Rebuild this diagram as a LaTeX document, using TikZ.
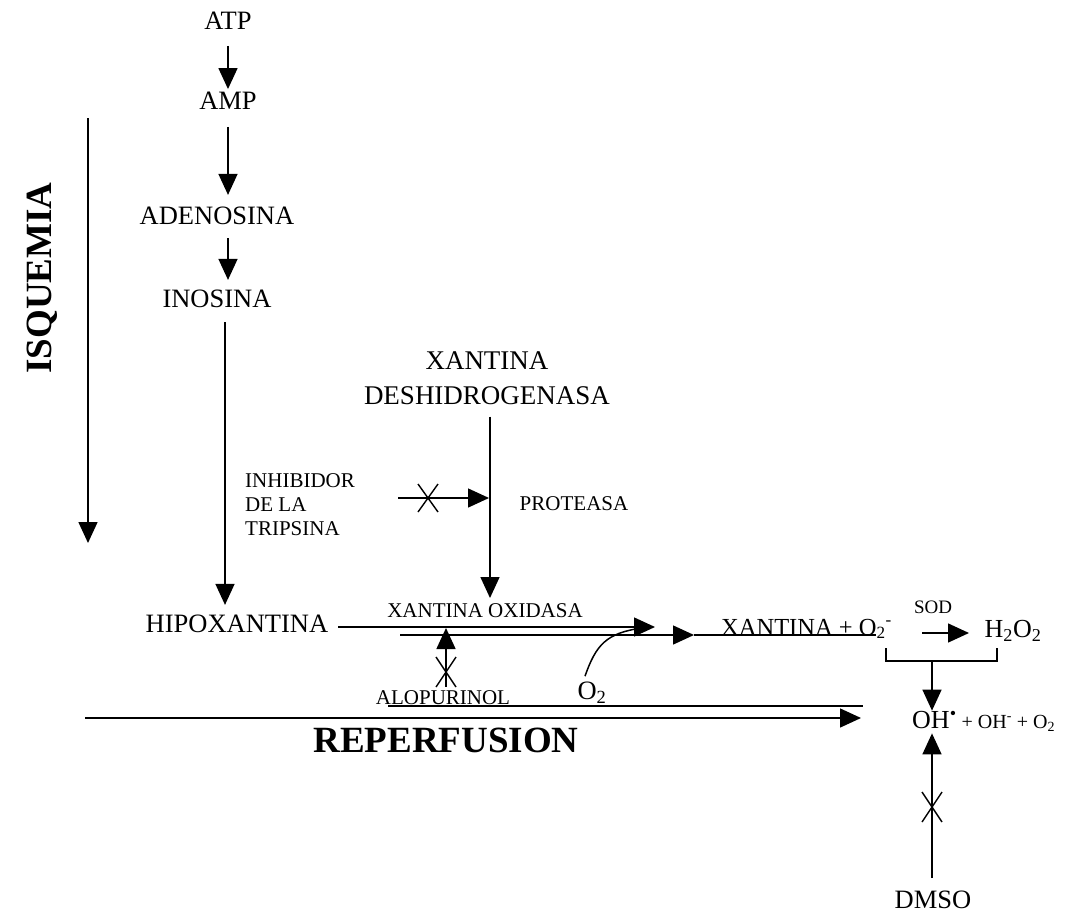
\documentclass[tikz,border=0pt]{standalone}
\usepackage{fontspec}
\setmainfont{Liberation Serif}
\usetikzlibrary{arrows.meta,calc}
\begin{document}
\begin{tikzpicture}[x=1pt,y=-1pt,
  big/.style={font=\fontsize{26.5}{30}\selectfont, inner sep=0pt},
  small/.style={font=\fontsize{21}{24}\selectfont, inner sep=0pt},
  bold/.style={font=\fontsize{37}{40}\selectfont\bfseries, inner sep=0pt},
  ln/.style={line width=1.5pt},
  arr/.style={ln, -{Triangle[length=21pt,width=19pt]}},
  xmark/.style={line width=1.4pt}]
\useasboundingbox (0,0) rectangle (1074,918);
% ladder
\node[big] (atp) at (228,21) {ATP};
\node[big] (amp) at (228,101) {AMP};
\node[big] (ade) at (217,216) {ADENOSINA};
\node[big] (ino) at (217,299) {INOSINA};
\node[big] (hipo) at (237,624) {HIPOXANTINA};
\draw[arr] ($(atp.south)+(0,16)$) -- ($(amp.north)+(0,-3)$);
\draw[arr] ($(amp.south)+(0,17)$) -- ($(ade.north)+(11,-12)$);
\draw[arr] ($(ade.south)+(11,13)$) -- ($(ino.north)+(11,-10)$);
\draw[arr] ($(ino.south)+(8,14)$) -- ($(hipo.north)+(-12,-10)$);
% isquemia
\node[bold, rotate=90] (isq) at (42,278) {ISQUEMIA};
\coordinate (isqa) at (88,118);
\coordinate (isqb) at (88,543);
\draw[arr] (isqa) -- (isqb);
% xantina deshidrogenasa
\node[big, align=center, font=\fontsize{27}{35}\selectfont] (xd) at (487,378) {XANTINA\\DESHIDROGENASA};
\coordinate (xdt) at (490,598);
\draw[arr] ($(xd.south)+(3,12)$) -- (xdt);
\node[small, align=left, anchor=west] (inh) at (245,505) {INHIBIDOR\\DE LA\\TRIPSINA};
\node[small] (prot) at (574,504) {PROTEASA};
\coordinate (inhs) at (398,498);
\coordinate (inht) at (489,498);
\draw[arr] (inhs) -- (inht);
\coordinate (x1) at (428,498);
\draw[xmark] ($(x1)+(-10,-14)$) -- ($(x1)+(10,14)$) ($(x1)+(-10,14)$) -- ($(x1)+(10,-14)$);
% xantina oxidasa
\node[small] (xo) at (485,611) {XANTINA OXIDASA};
\coordinate (u1) at (655,627);
\draw[arr] (hipo.east) ++(10,3) coordinate (h1) -- (u1);
\coordinate (l1) at (400,635);
\coordinate (l2) at (694,635);
\coordinate (l3) at (876,635);
\draw[arr] (l1) -- (l2);
\draw[ln] (l2) -- (l3);
\node[small] (alo) at (443,698) {ALOPURINOL};
\coordinate (alt) at (446,628);
\draw[arr] ($(alo.north)+(3,-4)$) -- (alt);
\coordinate (x2) at (446,672);
\draw[xmark] ($(x2)+(-10,-15)$) -- ($(x2)+(10,15)$) ($(x2)+(-10,15)$) -- ($(x2)+(10,-15)$);
\node[big] (o2a) at (592,693) {O\textsubscript{2}};
\coordinate (o2j) at (642,628);
\draw[ln] ($(o2a.north)+(-7,-6)$) .. controls (596,645) and (606,633) .. (o2j);
% products
\node[font=\fontsize{24.5}{28}\selectfont, inner sep=0pt, anchor=base west] (xan) at (721,635) {XANTINA + O\textsubscript{2}\textsuperscript{-}};
\node[font=\fontsize{19}{21}\selectfont, inner sep=0pt] (sod) at (933,607) {SOD};
\node[font=\fontsize{26}{28}\selectfont, inner sep=0pt] (h2o2) at (1013,631) {H\textsubscript{2}O\textsubscript{2}};
\coordinate (s1) at (922,633);
\coordinate (s2) at (969,633);
\draw[arr] (s1) -- (s2);
\coordinate (b1) at (886,648);
\coordinate (b2) at (886,661);
\coordinate (b3) at (997,661);
\coordinate (b4) at (997,648);
\draw[line width=1.2pt] (b1) -- (b2) -- (b3) -- (b4);
\node[inner sep=0pt, anchor=west] (oh) at (912,721) {\fontsize{26}{28}\selectfont OH\textsuperscript{\textbullet}\fontsize{20}{22}\selectfont{} + OH\textsuperscript{-} + O\textsubscript{2}};
\coordinate (bm) at (932,661);
\draw[arr] (bm) -- (oh.north -| bm);
% reperfusion
\coordinate (r1) at (388,706);
\coordinate (r2) at (863,706);
\draw[ln] (r1) -- (r2);
\coordinate (r3) at (85,718);
\coordinate (r4) at (861,718);
\draw[arr] (r3) -- (r4);
\node[bold] (rep) at (446,740) {REPERFUSION};
% dmso
\node[big] (dmso) at (933,900) {DMSO};
\coordinate (dm) at (932,878);
\draw[arr] (dm) -- ($(oh.south -| dm)+(0,2)$);
\coordinate (x3) at (932,807);
\draw[xmark] ($(x3)+(-10,-15)$) -- ($(x3)+(10,15)$) ($(x3)+(-10,15)$) -- ($(x3)+(10,-15)$);
\end{tikzpicture}
\end{document}
